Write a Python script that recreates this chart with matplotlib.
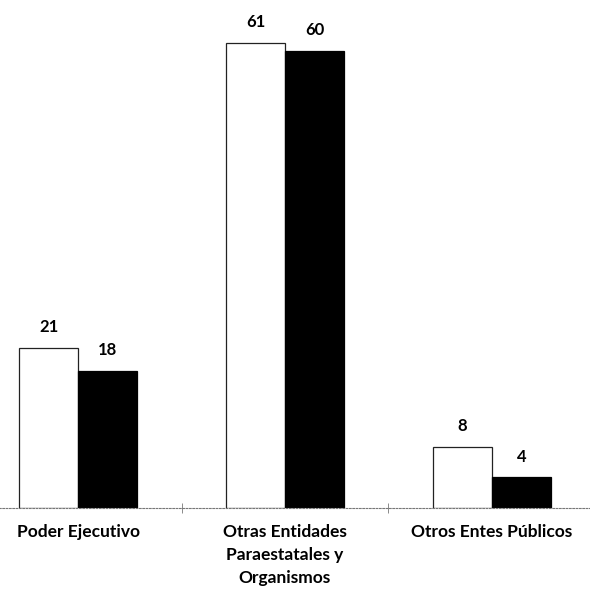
import numpy as np
import matplotlib.pyplot as plt

categories = ['Poder Ejecutivo', 'Otras Entidades\nParaestatales y\nOrganismos', 'Otros Entes Públicos']
serie_a = [21, 61, 8]
serie_b = [18, 60, 4]

plt.rcParams['font.family'] = ['Lato', 'DejaVu Sans']

fig = plt.figure(figsize=(5.9, 5.9), dpi=100)
ax = fig.add_axes([-0.043, 0.139, 1.052, 0.84])

x = np.arange(len(categories))
w = 0.285
bars_a = ax.bar(x - w / 2, serie_a, w, color='white', edgecolor='#222222', linewidth=0.9)
bars_b = ax.bar(x + w / 2, serie_b, w, color='black', edgecolor='black', linewidth=0.9)

for bars in (bars_a, bars_b):
    for b in bars:
        ax.annotate(f'{int(b.get_height())}', (b.get_x() + b.get_width() / 2, b.get_height()),
                    xytext=(0, 9), textcoords='offset points', ha='center', va='bottom',
                    fontsize=12, fontweight='bold')

ax.set_xlim(-0.5, 2.5)
ax.set_ylim(0, 65)

for s in ('top', 'right', 'left'):
    ax.spines[s].set_visible(False)
ax.spines['bottom'].set_linestyle((0, (1.5, 1.5)))
ax.spines['bottom'].set_color('#777777')
ax.spines['bottom'].set_linewidth(0.8)
ax.spines['bottom'].set_bounds(-0.43, 2.5)

ax.set_yticks([])
ax.set_xticks([0.5, 1.5])
ax.set_xticklabels([])
ax.tick_params(axis='x', direction='inout', length=7, width=0.6, color='#777777')

for i, c in enumerate(categories):
    ax.text(i, -2.1, c, ha='center', va='top', fontsize=12.5, fontweight='bold',
            linespacing=1.55, transform=ax.transData)

fig.savefig('out.png', dpi=100)
